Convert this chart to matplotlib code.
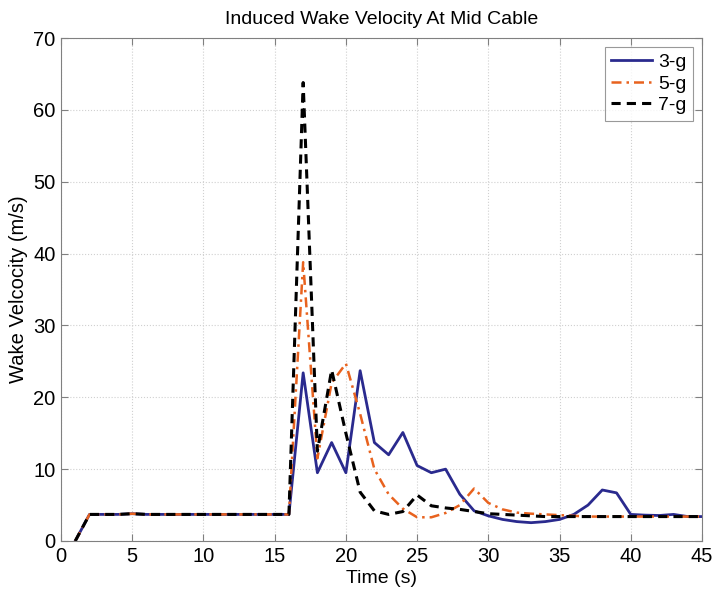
import numpy as np
import matplotlib
matplotlib.use("Agg")
import matplotlib.pyplot as plt

plt.rcParams["font.family"] = ["Liberation Sans", "DejaVu Sans"]

time_s = list(range(1, 46))

wake_3g = [0.0, 3.7, 3.7, 3.7, 3.8, 3.7, 3.7, 3.7, 3.7, 3.7,
           3.7, 3.7, 3.7, 3.7, 3.7, 3.7, 23.4, 9.5, 13.7, 9.5,
           23.7, 13.7, 12.0, 15.1, 10.5, 9.5, 10.0, 6.5, 4.2, 3.5,
           3.0, 2.7, 2.55, 2.7, 3.0, 3.7, 5.0, 7.1, 6.7, 3.7,
           3.6, 3.55, 3.7, 3.4, 3.4]

wake_5g = [0.0, 3.7, 3.7, 3.7, 3.8, 3.7, 3.7, 3.7, 3.7, 3.7,
           3.7, 3.7, 3.7, 3.7, 3.7, 3.7, 38.8, 11.5, 22.0, 24.7,
           17.7, 10.0, 6.5, 4.5, 3.3, 3.3, 3.9, 5.0, 7.3, 5.3,
           4.4, 3.95, 3.8, 3.7, 3.6, 3.5, 3.4, 3.4, 3.4, 3.4,
           3.4, 3.4, 3.4, 3.4, 3.4]

wake_7g = [0.0, 3.7, 3.7, 3.7, 3.8, 3.7, 3.7, 3.7, 3.7, 3.7,
           3.7, 3.7, 3.7, 3.7, 3.7, 3.7, 63.8, 12.5, 23.8, 15.0,
           6.8, 4.2, 3.7, 4.1, 6.4, 4.9, 4.6, 4.4, 4.1, 3.8,
           3.7, 3.6, 3.5, 3.4, 3.4, 3.4, 3.4, 3.4, 3.4, 3.4,
           3.4, 3.4, 3.4, 3.4, 3.4]


fig = plt.figure(figsize=(7.17, 5.94), dpi=100)
ax = fig.add_axes([61 / 717, 53 / 594, 641 / 717, 503 / 594])

ax.plot(time_s, wake_3g, color="#2a2a8e", linewidth=2.0, label="3-g")
ax.plot(time_s, wake_5g, color="#e8621e", linewidth=1.8,
        linestyle=(0, (4, 2, 1, 2)), label="5-g")
ax.plot(time_s, wake_7g, color="black", linewidth=2.2,
        linestyle=(0, (3, 2)), label="7-g")

ax.set_xlim(0, 45)
ax.set_ylim(0, 70)
ax.set_xticks(np.arange(0, 46, 5))
ax.set_yticks(np.arange(0, 71, 10))
ax.grid(True, color="#d0d0d0", linestyle=":", linewidth=0.8)
ax.tick_params(direction="in", labelsize=14.5, top=True, right=True,
               color="#808080", length=5, pad=4)
for spine in ax.spines.values():
    spine.set_color("#808080")

ax.set_title("Induced Wake Velocity At Mid Cable", fontsize=14, pad=10)
ax.set_xlabel("Time (s)", fontsize=14, labelpad=3)
ax.set_ylabel("Wake Velcocity (m/s)", fontsize=14.5, labelpad=4)

leg = ax.legend(loc="upper right", fontsize=14, fancybox=False,
                handlelength=2.1, handletextpad=0.3, borderpad=0.35,
                labelspacing=0.2, borderaxespad=0.45)
leg.get_frame().set_edgecolor("#808080")
leg.get_frame().set_linewidth(0.8)

fig.savefig("out.png", dpi=100)
